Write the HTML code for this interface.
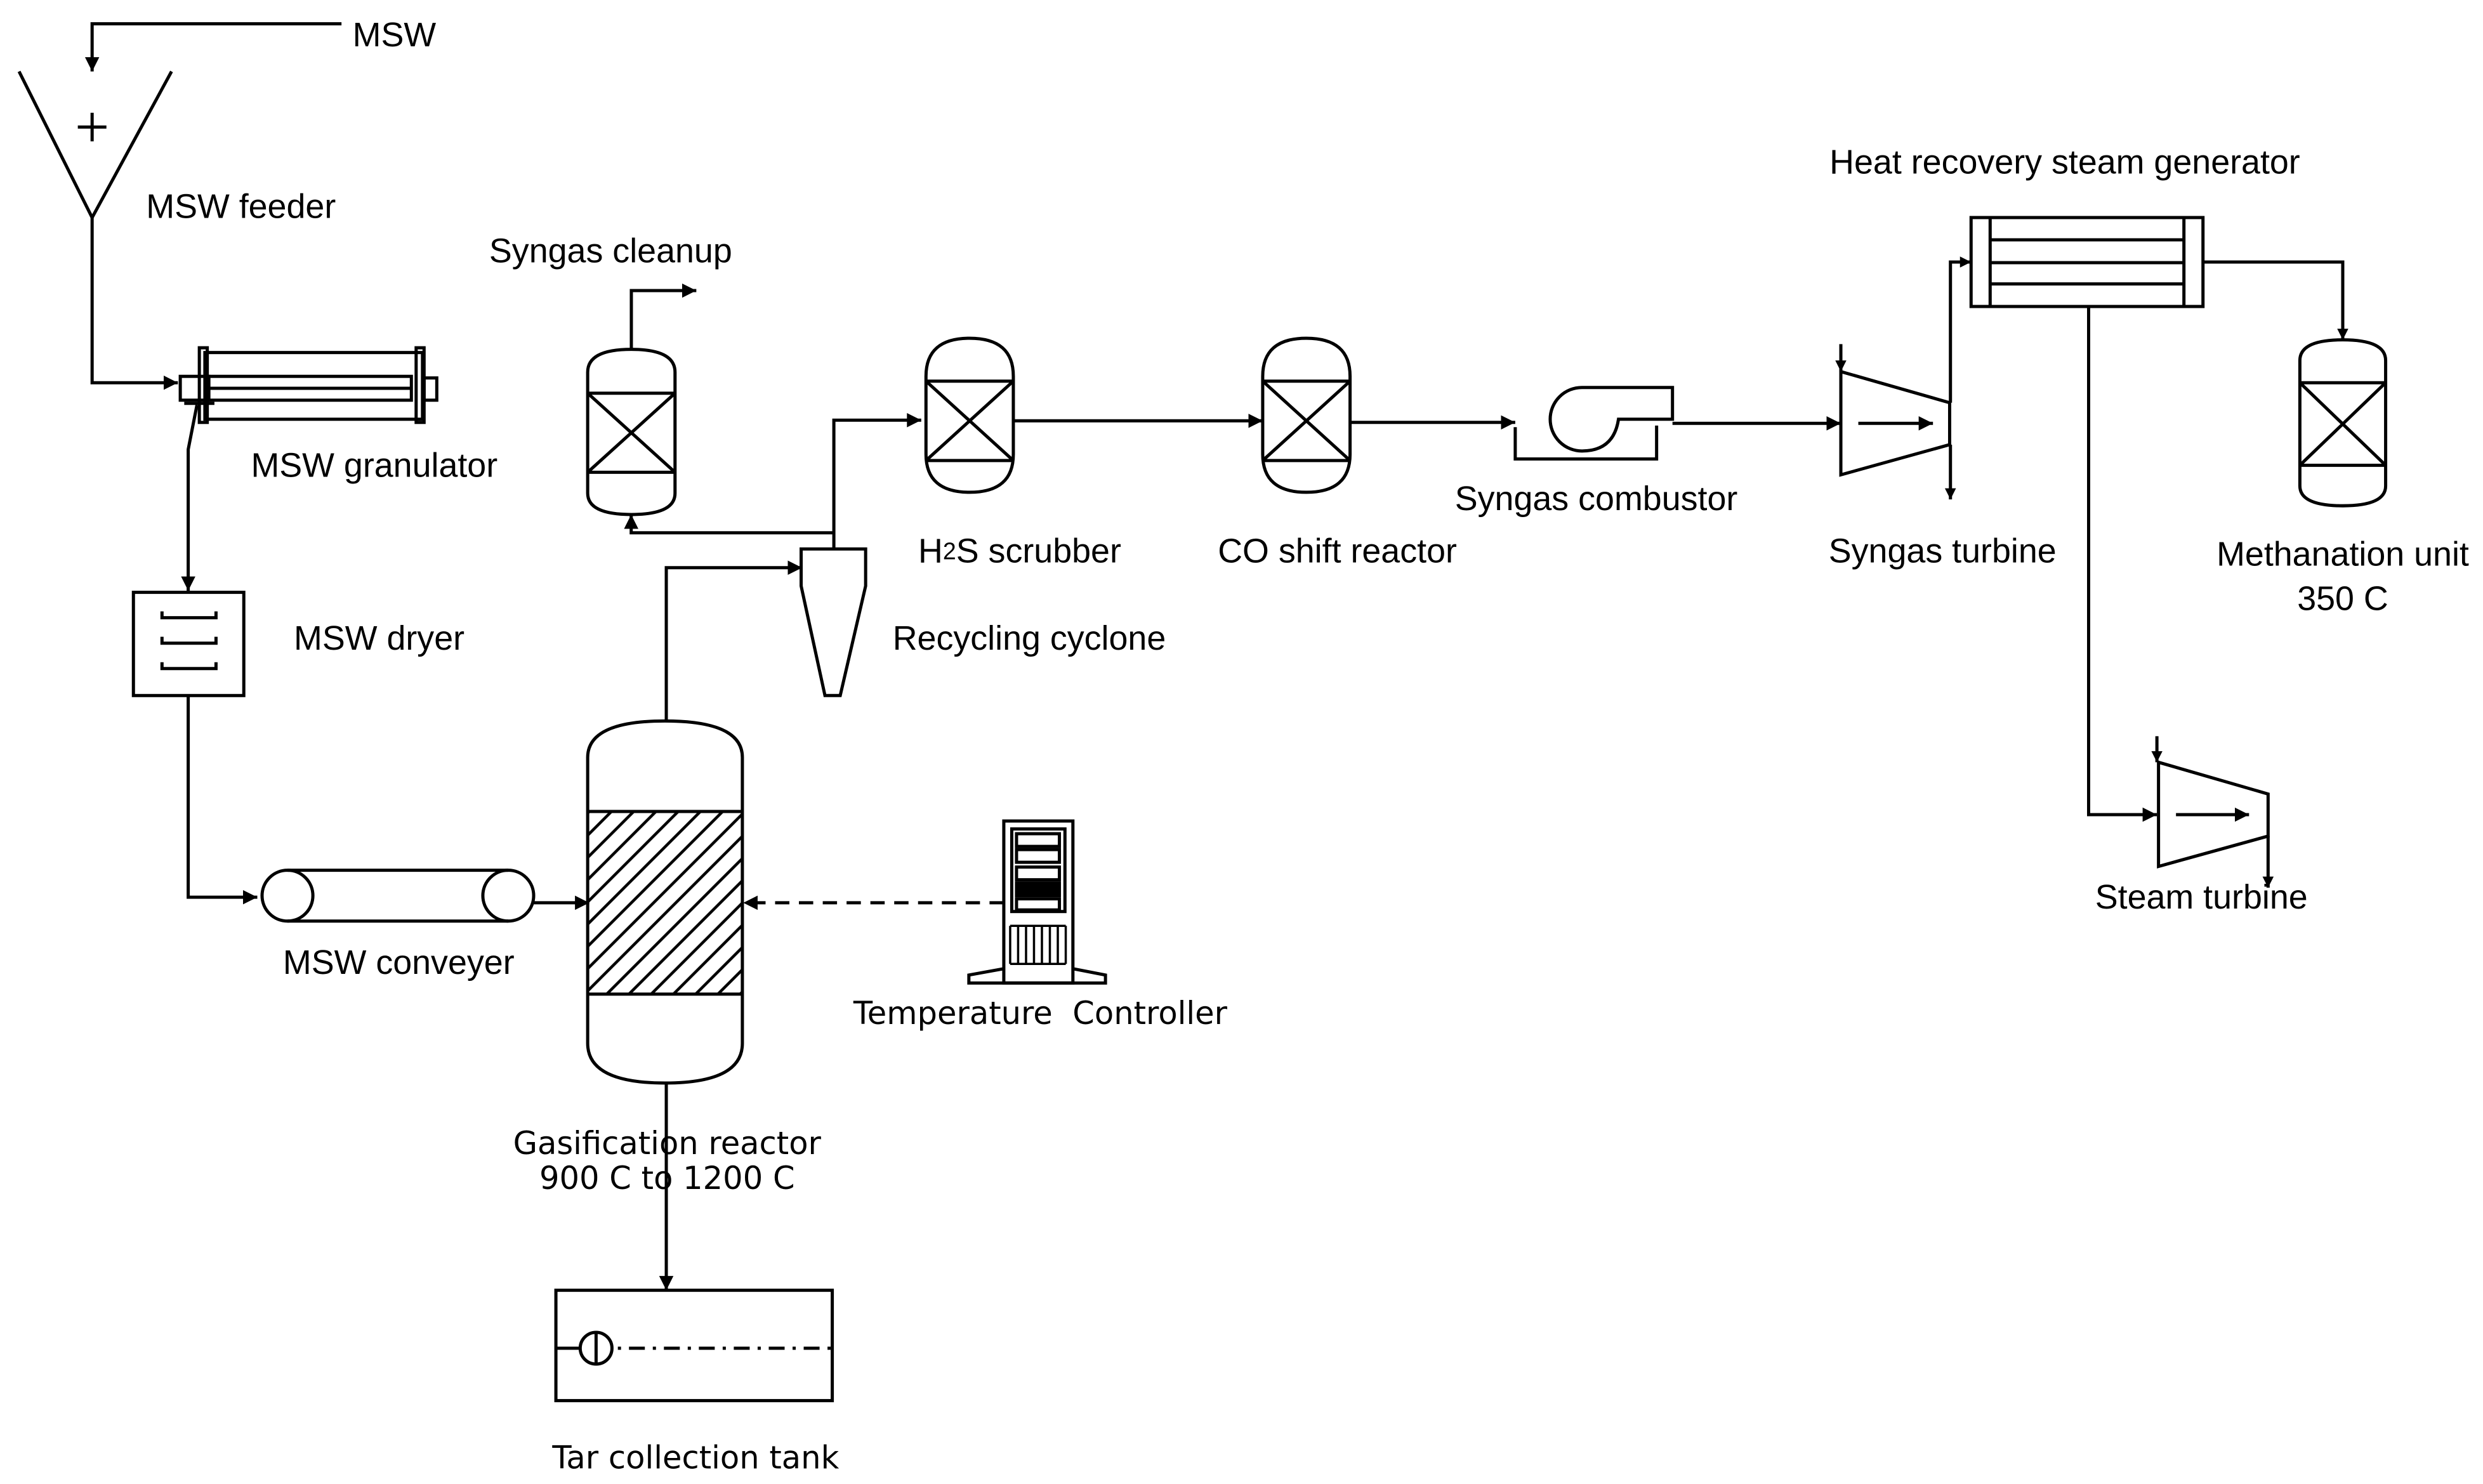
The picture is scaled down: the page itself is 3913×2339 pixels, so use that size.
<!DOCTYPE html>
<html><head><meta charset="utf-8"><style>
html,body{margin:0;padding:0;background:#fff;}
svg{display:block;}
text{font-family:"Liberation Sans",sans-serif;font-size:21.5px;fill:#000;}
.d{font-family:"DejaVu Sans",sans-serif;font-size:19.8px;}
</style></head><body>
<svg width="3913" height="2339" viewBox="0 0 1563.3 934.5" preserveAspectRatio="none" xmlns="http://www.w3.org/2000/svg">
<defs>
<marker id="a" viewBox="0 0 10 10" refX="10" refY="5" markerWidth="7" markerHeight="7" orient="auto" markerUnits="userSpaceOnUse">
<path d="M0,0 L10,5 L0,10 z" fill="#000"/></marker>
<marker id="b" viewBox="0 0 10 10" refX="10" refY="5" markerWidth="9" markerHeight="9" orient="auto" markerUnits="userSpaceOnUse">
<path d="M0,0 L10,5 L0,10 z" fill="#000"/></marker>
<pattern id="h" width="14" height="14" patternUnits="userSpaceOnUse">
<path d="M-2,16 L16,-2 M-9,9 L9,-9 M5,23 L23,5" stroke="#000" stroke-width="1.8"/></pattern>
</defs>
<g fill="none" stroke="#000" stroke-width="2">
<polyline points="215,15 58,15 58,45" marker-end="url(#b)"/>
<polyline points="12,45 58,137 108,45"/>
<path d="M49,80 H67 M58,71 V89"/>
<polyline points="58,137 58,241 112,241" marker-end="url(#b)"/>
<rect x="129" y="222" width="137" height="42"/>
<rect x="125.5" y="219" width="5" height="47"/>
<rect x="262" y="219" width="5" height="47"/>
<rect x="131" y="237" width="128" height="15"/>
<line x1="131" y1="244.5" x2="259" y2="244.5"/>
<rect x="113.5" y="237" width="18" height="15"/>
<rect x="267" y="238" width="8" height="14"/>
<line x1="116" y1="254" x2="135" y2="254"/>
<polyline points="124,255 118.5,283 118.5,372" marker-end="url(#b)"/>
<rect x="84" y="373" width="69.5" height="65"/>
<path d="M102,385 V389 H136 V385 M102,401 V405 H136 V401 M102,417 V421 H136 V417"/>
<polyline points="118.5,438 118.5,565 162,565" marker-end="url(#b)"/>
<circle cx="181" cy="564" r="16"/>
<circle cx="320" cy="564" r="16"/>
<line x1="181" y1="548" x2="320" y2="548"/>
<line x1="181" y1="580" x2="320" y2="580"/>
<line x1="336" y1="568.5" x2="371" y2="568.5" marker-end="url(#b)"/>
<rect x="370" y="511" width="97.4" height="115" fill="url(#h)" stroke="none"/>
<path d="M370,477 Q370,454 418.7,454 Q467.4,454 467.4,477 V657 Q467.4,682 418.7,682 Q370,682 370,657 Z"/>
<line x1="370" y1="511" x2="467.4" y2="511"/>
<line x1="370" y1="626" x2="467.4" y2="626"/>
<line x1="632" y1="568.5" x2="468" y2="568.5" stroke-dasharray="9,6" marker-end="url(#b)"/>
<polyline points="419.5,454 419.5,357.5 505,357.5" marker-end="url(#b)"/>
<line x1="419.5" y1="682" x2="419.5" y2="812.5" marker-end="url(#b)"/>
<rect x="350" y="812.5" width="174" height="69.5"/>
<line x1="350" y1="849" x2="365" y2="849"/>
<circle cx="375.3" cy="849" r="10"/>
<line x1="375.3" y1="839" x2="375.3" y2="859"/>
<line x1="389" y1="849" x2="524" y2="849" stroke-dasharray="2,5,10,5"/>
<rect x="632" y="517" width="43.5" height="102"/>
<rect x="637" y="522" width="33.5" height="52"/>
<rect x="640" y="525" width="27" height="8"/>
<rect x="640" y="535" width="27" height="8"/>
<rect x="640" y="546" width="27" height="8"/>
<rect x="640" y="556" width="27" height="8" fill="#000"/>
<rect x="640" y="566" width="27" height="7"/>
<path d="M636,583 V607 M641,583 V607 M646,583 V607 M651,583 V607 M656,583 V607 M661,583 V607 M666,583 V607 M671,583 V607 M636,583 H671 M636,607 H671" stroke-width="1.4"/>
<polyline points="632,610 610,614 610,619 696,619 696,614 675.5,610"/>
<polygon points="504.4,345.7 545,345.7 545,369 529,438 519.4,438 504.4,369"/>
<polyline points="525,345.7 525,264.6 580,264.6" marker-end="url(#b)"/>
<polyline points="525,335.5 397.4,335.5 397.4,324" marker-end="url(#b)"/>
<path d="M370,234.4 Q370,220 397.5,220 Q425,220 425,234.4 V310.6 Q425,324 397.5,324 Q370,324 370,310.6 Z"/>
<path d="M370,247.6 H425 M370,297.4 H425 M370,247.6 L425,297.4 M425,247.6 L370,297.4"/>
<polyline points="397.5,220 397.5,183 438.4,183" marker-end="url(#b)"/>
<path d="M583,237 Q583,213 610.5,213 Q638,213 638,237 V286 Q638,310 610.5,310 Q583,310 583,286 Z"/>
<path d="M583,240 H638 M583,290 H638 M583,240 L638,290 M638,240 L583,290"/>
<line x1="638" y1="265" x2="795" y2="265" marker-end="url(#b)"/>
<path d="M795,237 Q795,213 822.5,213 Q850,213 850,237 V286 Q850,310 822.5,310 Q795,310 795,286 Z"/>
<path d="M795,240 H850 M795,290 H850 M795,240 L850,290 M850,240 L795,290"/>
<line x1="850" y1="266" x2="954" y2="266" marker-end="url(#b)"/>
<path d="M996,244 H1053 V264 H1019 Q1016,284 996,284 A20,20 0 0 1 996,244 Z"/>
<polyline points="954,269 954,289 1043,289 1043,268"/>
<line x1="1053" y1="266.6" x2="1159" y2="266.6" marker-end="url(#b)"/>
<polygon points="1159,234 1227.5,253.6 1227.5,280 1159,299"/>
<line x1="1170" y1="266.6" x2="1217" y2="266.6" marker-end="url(#b)"/>
<line x1="1159" y1="216.7" x2="1159" y2="234" marker-end="url(#a)"/>
<line x1="1228" y1="280" x2="1228" y2="314.5" marker-end="url(#a)"/>
<polyline points="1228,253.6 1228,165 1241,165" marker-end="url(#a)"/>
<rect x="1241" y="137" width="146" height="56"/>
<path d="M1253,137 V193 M1375,137 V193 M1253,151 H1375 M1253,165.4 H1375 M1253,178.8 H1375"/>
<polyline points="1387,165 1475,165 1475,214" marker-end="url(#a)"/>
<path d="M1448,227 Q1448,214 1475,214 Q1502,214 1502,227 V306 Q1502,318.5 1475,318.5 Q1448,318.5 1448,306 Z"/>
<path d="M1448,241 H1502 M1448,293 H1502 M1448,241 L1502,293 M1502,241 L1448,293"/>
<polyline points="1315,193 1315,513 1358,513" marker-end="url(#b)"/>
<polygon points="1359,480 1428,500 1428,526.5 1359,545.6"/>
<line x1="1370" y1="513" x2="1416" y2="513" marker-end="url(#b)"/>
<line x1="1358" y1="463.6" x2="1358" y2="480" marker-end="url(#a)"/>
<line x1="1428" y1="526.5" x2="1428" y2="559" marker-end="url(#a)"/>
</g>
<g dominant-baseline="central">
<text x="222" y="22">MSW</text>
<text x="92" y="130">MSW feeder</text>
<text x="308" y="158">Syngas cleanup</text>
<text x="158" y="293">MSW granulator</text>
<text x="185" y="402">MSW dryer</text>
<text x="562" y="402">Recycling cyclone</text>
<text x="251" y="606" text-anchor="middle">MSW conveyer</text>
<text class="d" x="655" y="638" text-anchor="middle" xml:space="preserve">Temperature  Controller</text>
<text class="d" x="420" y="720" text-anchor="middle">Gasification reactor</text>
<text class="d" x="420" y="742" text-anchor="middle">900 C to 1200 C</text>
<text class="d" x="438" y="918" text-anchor="middle">Tar collection tank</text>
<text x="642" y="347" text-anchor="middle">H<tspan font-size="15">2</tspan>S scrubber</text>
<text x="842" y="347" text-anchor="middle">CO shift reactor</text>
<text x="1005" y="314" text-anchor="middle">Syngas combustor</text>
<text x="1223" y="347" text-anchor="middle">Syngas turbine</text>
<text x="1300" y="102" text-anchor="middle">Heat recovery steam generator</text>
<text x="1475" y="349" text-anchor="middle">Methanation unit</text>
<text x="1475" y="377" text-anchor="middle">350 C</text>
<text x="1386" y="565" text-anchor="middle">Steam turbine</text>
</g>
</svg>
</body></html>
